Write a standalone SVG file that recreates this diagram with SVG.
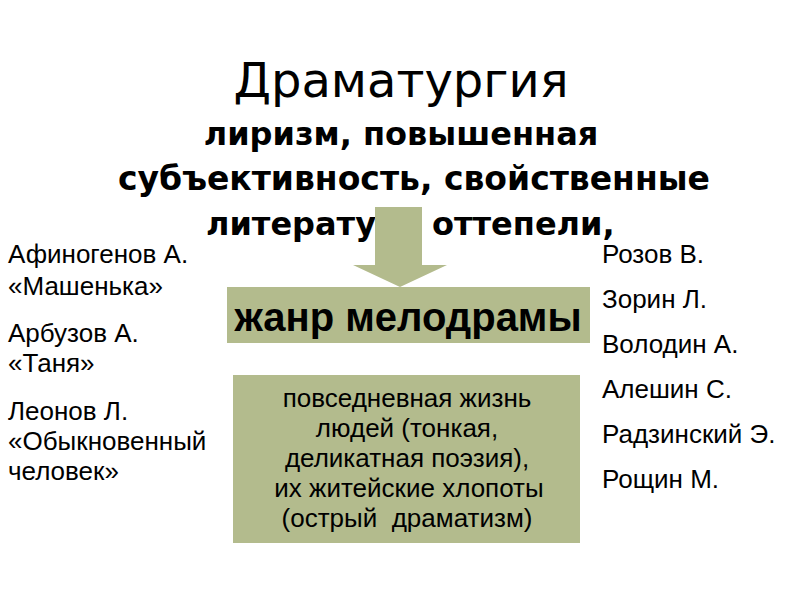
<svg xmlns="http://www.w3.org/2000/svg" width="800" height="600" viewBox="0 0 800 600">
<style>
.title{font-family:"DejaVu Sans",sans-serif;font-size:48px;fill:#000}
.sub{font-family:"DejaVu Sans",sans-serif;font-weight:bold;font-size:32px;fill:#000}
.sub2{font-size:33px}
.side{font-family:"Liberation Sans",Arial,sans-serif;font-size:26px;fill:#000}
.box{fill:#b3bb8d}
.boxtxt{font-family:"Liberation Sans",Arial,sans-serif;font-size:26px;fill:#000;text-anchor:middle;white-space:pre}
.genre{font-family:"Liberation Sans",Arial,sans-serif;font-weight:bold;font-size:40px;fill:#000;text-anchor:middle}
</style>
<rect width="800" height="600" fill="#fff"/>
<g id="title"><text class="title" x="401" y="97" text-anchor="middle">Драматургия</text></g>
<g id="subtitle">
<text class="sub" x="401" y="145" text-anchor="middle">лиризм, повышенная</text>
<text class="sub sub2" x="414" y="190" text-anchor="middle">субъективность, свойственные</text>
<text class="sub" x="376" y="235" text-anchor="end">литерату</text>
<text class="sub" x="432" y="235">оттепели,</text>
</g>
<g id="connectors">
<polygon class="box" points="375,207 422,207 422,265 447,265 400,287 353,265 375,265"/>
</g>
<g id="genre">
<rect class="box" x="227" y="287" width="363" height="56"/>
<text class="genre" x="408" y="331">жанр мелодрамы</text>
</g>
<g id="description">
<rect class="box" x="233" y="375" width="347" height="168"/>
<text class="boxtxt" x="407" y="407">повседневная жизнь</text>
<text class="boxtxt" x="407" y="437">людей (тонкая,</text>
<text class="boxtxt" x="407" y="467">деликатная поэзия),</text>
<text class="boxtxt" x="409" y="497">их житейские хлопоты</text>
<text class="boxtxt" x="407" y="527">(острый  драматизм)</text>
</g>
<g id="left-authors">
<text class="side" x="8" y="263">Афиногенов А.</text>
<text class="side" x="8" y="295">«Машенька»</text>
<text class="side" x="8" y="342">Арбузов А.</text>
<text class="side" x="8" y="372">«Таня»</text>
<text class="side" x="8" y="420">Леонов Л.</text>
<text class="side" x="8" y="450">«Обыкновенный</text>
<text class="side" x="8" y="480">человек»</text>
</g>
<g id="right-authors">
<text class="side" x="602" y="263">Розов В.</text>
<text class="side" x="602" y="308">Зорин Л.</text>
<text class="side" x="602" y="353">Володин А.</text>
<text class="side" x="602" y="398">Алешин С.</text>
<text class="side" x="602" y="443">Радзинский Э.</text>
<text class="side" x="602" y="488">Рощин М.</text>
</g>
</svg>
